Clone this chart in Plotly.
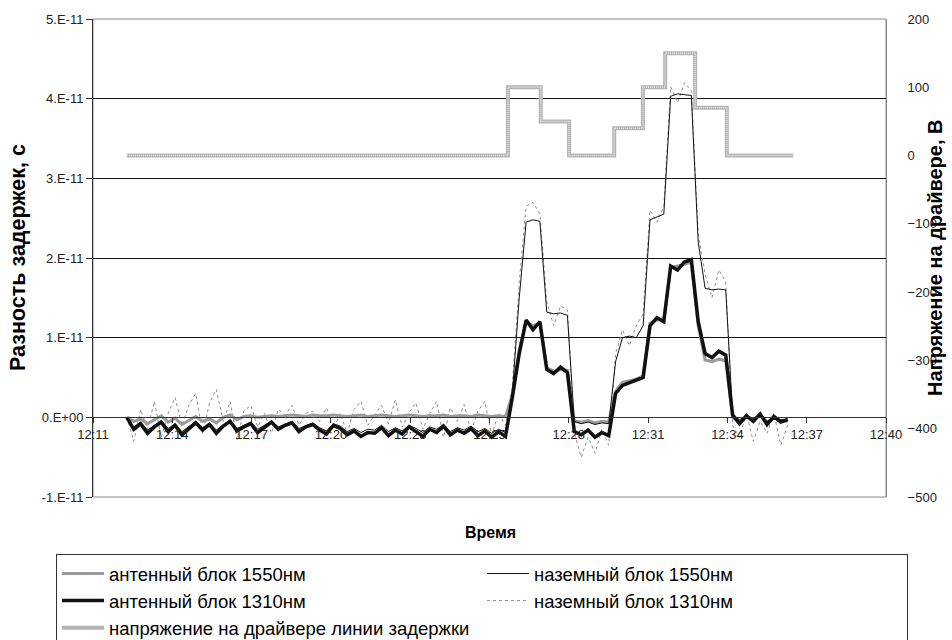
import plotly.graph_objects as go

# time, minutes after 12:00
t = [12.75, 13.0, 13.25, 13.5, 13.75, 14.0, 14.25, 14.5, 14.75, 15.0,
     15.25, 15.5, 15.75, 16.0, 16.25, 16.5, 16.75, 17.0, 17.25, 17.5,
     17.75, 18.0, 18.25, 18.5, 18.75, 19.0, 19.25, 19.5, 19.75, 20.0,
     20.25, 20.5, 20.75, 21.0, 21.25, 21.5, 21.75, 22.0, 22.25, 22.5,
     22.75, 23.0, 23.25, 23.5, 23.75, 24.0, 24.25, 24.5, 24.75, 25.0,
     25.25, 25.5, 25.75, 26.0, 26.25, 26.5, 26.75, 27.0, 27.25, 27.5,
     27.75, 28.0, 28.25, 28.5, 28.75, 29.0, 29.25, 29.5, 29.75, 30.0,
     30.25, 30.5, 30.75, 31.0, 31.25, 31.5, 31.75, 32.0, 32.25, 32.5,
     32.75, 33.0, 33.25, 33.5, 33.75, 34.0, 34.25, 34.5, 34.75, 35.0,
     35.25, 35.5, 35.75, 36.0, 36.25, 36.5, 36.75]

# delay differences, picoseconds (1e-12 s)
ant_1550 = [0.0, -0.5, -0.2, -0.8, -0.3, 0.2, -0.6, -0.1, -0.9, -0.4,
            0.1, -0.5, -0.2, -0.7, 0.0, 0.3, -0.3, 0.1, 0.2, 0.0,
            0.1, 0.2, 0.1, 0.2, 0.3, 0.2, 0.1, 0.3, 0.2, 0.2,
            0.3, 0.2, 0.1, 0.2, 0.3, 0.1, 0.2, 0.3, 0.2, 0.1,
            0.2, 0.3, 0.2, 0.1, 0.2, 0.2, 0.3, 0.1, 0.2, 0.2,
            0.1, 0.3, 0.2, 0.1, 0.2, 0.1,
            2.8, 8.5, 12.0, 11.5, 11.8, 6.2, 5.8, 6.0, 5.9, -0.5,
            -0.6, -0.4, -0.7, -0.5, -0.6, 3.3, 4.4, 4.6, 4.8, 5.2,
            11.8, 12.2, 12.4, 18.8, 19.0, 19.2, 19.5, 11.5, 7.2, 7.0,
            7.3, 7.1, 0.0, -0.5, 0.2, -0.3, 0.3, -0.6, 0.0, -0.4, -0.5]

gnd_1550 = [-0.2, -1.2, -0.6, -1.6, -1.0, -0.4, -1.4, -0.8, -1.8, -1.1,
            -0.5, -1.3, -0.7, -1.6, -0.9, -0.3, -1.4, -1.0, -0.6, -1.5,
            -1.0, -0.5, -1.2, -0.8, -0.5, -1.4, -1.0, -0.7, -1.3, -1.7,
            -0.8, -1.1, -1.8, -1.4, -1.9, -1.5, -1.6, -1.0, -1.8, -1.3,
            -1.7, -1.0, -1.4, -1.9, -1.2, -1.5, -0.9, -1.8, -1.3, -1.6,
            -1.1, -1.8, -1.4, -2.0, -1.5, -1.9,
            3.0, 15.0, 24.5, 24.8, 24.6, 13.2, 13.0, 13.1, 12.8, -0.5,
            -0.8, -0.6, -0.9, -0.7, -0.8, 7.0, 10.0, 10.2, 10.0, 11.5,
            24.8, 25.2, 25.5, 40.3, 40.6, 40.5, 40.4, 22.0, 16.2, 16.0,
            16.1, 16.0, 0.3, -0.3, 0.1, -0.4, 0.2, -0.5, 0.0, -0.3, -0.2]

ant_1310 = [0.0, -1.5, -0.8, -2.0, -1.2, -0.6, -1.8, -1.0, -2.2, -1.4,
            -0.7, -1.6, -0.9, -2.0, -1.1, -0.5, -1.7, -1.2, -0.8, -1.9,
            -1.3, -0.6, -1.5, -1.0, -0.7, -1.8, -1.2, -0.9, -1.6, -2.1,
            -1.0, -1.4, -2.2, -1.7, -2.4, -1.9, -2.0, -1.3, -2.3, -1.6,
            -2.1, -1.2, -1.8, -2.4, -1.5, -1.9, -1.1, -2.2, -1.6, -2.0,
            -1.4, -2.3, -1.7, -2.5, -1.8, -2.4,
            2.5, 8.0, 12.2, 11.0, 12.0, 6.0, 5.5, 6.3, 5.6, -1.8,
            -2.2, -1.6, -2.5, -1.9, -2.3, 3.0, 4.0, 4.3, 4.6, 5.0,
            11.5, 12.5, 12.0, 19.0, 18.5, 19.5, 19.8, 12.0, 8.0, 7.5,
            8.3, 7.8, 0.3, -0.8, 0.2, -0.5, 0.4, -0.9, 0.1, -0.6, -0.3]

gnd_1310 = [0.0, -3.0, 1.0, -1.5, 2.0, -2.5, 0.5, 2.5, -1.0, 1.5,
            3.0, -2.0, 1.8, 3.5, -0.5, 2.0, -2.8, 0.8, 1.5, -1.2,
            0.5, -2.0, 1.0, 0.3, 1.5, -1.0, 0.5, 0.8, -0.5, 1.2,
            -1.5, 0.5, -2.0, 1.0, 2.0, -1.0, 0.3, 1.5, -0.8, 2.2,
            -1.2, 0.6, 1.8, -1.5, 0.5, 2.0, -2.5, 1.2, -0.5, 1.6,
            -1.8, 0.8, 2.0, -2.2, 0.5, -1.0,
            4.0, 17.0, 26.5, 27.0, 25.5, 14.5, 11.5, 14.0, 13.5, -2.0,
            -5.0, -2.5, -4.5, -1.5, -3.5, 8.0, 11.0, 9.0, 11.5, 13.0,
            26.0, 24.5, 26.5, 41.5, 39.5, 42.0, 41.0, 23.0, 18.0, 15.0,
            18.5, 17.0, -1.0, -2.5, 0.5, -3.0, -0.5, -2.0, 0.5, -3.5, -1.0]

# driver voltage steps (V), step start times in minutes after 12:00
volt_t = [12.75, 26.59, 27.78, 28.81, 30.45, 31.49, 32.30, 33.39, 34.54, 36.95]
volt_v = [0, 100, 50, 0, 40, 100, 150, 70, 0, 0]

# axis ticks
x_tickvals = [11.52, 14.40, 17.28, 20.16, 23.04, 25.92, 28.80, 31.68, 34.56, 37.44, 40.32]
x_ticktext = ["12:11", "12:14", "12:17", "12:20", "12:23", "12:25", "12:28",
              "12:31", "12:34", "12:37", "12:40"]
y_tickvals = [-1e-11, 0, 1e-11, 2e-11, 3e-11, 4e-11, 5e-11]
y_ticktext = ["-1.E-11", "0.E+00", "1.E-11", "2.E-11", "3.E-11", "4.E-11", "5.E-11"]
y2_tickvals = [-500, -400, -300, -200, -100, 0, 100, 200]

names = ["антенный блок 1550нм", "наземный блок 1550нм", "антенный блок 1310нм",
         "наземный блок 1310нм", "напряжение на драйвере линии задержки"]

ps = lambda arr: [v * 1e-12 for v in arr]

fig = go.Figure()
fig.add_trace(go.Scatter(x=t, y=ps(gnd_1310), mode="lines", name=names[3], legendrank=4,
                         line=dict(color="#8c8c8c", width=1, dash="dot")))
fig.add_trace(go.Scatter(x=t, y=ps(ant_1550), mode="lines", name=names[0], legendrank=1,
                         line=dict(color="#9a9a9a", width=3)))
fig.add_trace(go.Scatter(x=t, y=ps(ant_1310), mode="lines", name=names[2], legendrank=3,
                         line=dict(color="#111111", width=3.5)))
fig.add_trace(go.Scatter(x=t, y=ps(gnd_1550), mode="lines", name=names[1], legendrank=2,
                         line=dict(color="#111111", width=1)))
fig.add_trace(go.Scatter(x=volt_t, y=volt_v, mode="lines", name=names[4], legendrank=5,
                         yaxis="y2", line=dict(color="#b4b4b4", width=4, shape="hv")))
fig.add_trace(go.Scatter(x=volt_t, y=volt_v, mode="lines", showlegend=False, hoverinfo="skip",
                         yaxis="y2", line=dict(color="#e6e6e6", width=1.5, shape="hv", dash="1px,1px")))

font = "Liberation Sans, Arial, sans-serif"
L, R, T, B = 93, 886, 19, 497
W, H = 952, 640
pw, ph = R - L, B - T

fig.update_layout(
    width=W, height=H,
    margin=dict(l=L, r=W - R, t=T, b=H - B, pad=0, autoexpand=False),
    paper_bgcolor="white", plot_bgcolor="white",
    font=dict(family=font, color="black", size=13),
    showlegend=True,
    legend=dict(orientation="h", x=(56 - L) / pw, xanchor="left", y=(B - 554) / ph, yanchor="top",
                bordercolor="#333333", borderwidth=1, bgcolor="white",
                font=dict(family=font, size=18.5, color="black"),
                entrywidth=368, entrywidthmode="pixels", itemwidth=42, traceorder="normal"),
    xaxis=dict(range=[11.52, 40.32], tickvals=x_tickvals, ticktext=x_ticktext,
               anchor="free", position=1 / 6, showline=True, linecolor="#333333", linewidth=1,
               ticks="outside", ticklen=5, tickcolor="#333333", showgrid=False, zeroline=False,
               tickfont=dict(size=13, family=font, color="#222222")),
    yaxis=dict(range=[-1e-11, 5e-11], tickvals=y_tickvals, ticktext=y_ticktext,
               showgrid=True, gridcolor="#111111", gridwidth=1, zeroline=False,
               showline=True, linecolor="#333333", linewidth=1, ticks="outside", ticklen=6,
               tickcolor="#333333", tickfont=dict(size=13, family=font, color="#222222")),
    yaxis2=dict(range=[-500, 200], tickvals=y2_tickvals, overlaying="y", side="right",
                showgrid=False, zeroline=False, showline=True, linecolor="#8a8a8a", linewidth=1,
                ticks="outside", ticklen=18, tickcolor="rgba(0,0,0,0)",
                tickfont=dict(size=13, family=font, color="#222222")),
    shapes=[dict(type="rect", xref="paper", yref="paper", x0=0, x1=1, y0=0, y1=1,
                 line=dict(color="#8a8a8a", width=1), layer="below")],
    annotations=[
        dict(text="<b>Разность задержек, с</b>", xref="paper", yref="paper",
             x=(18 - L) / pw, y=0.5, textangle=-90, showarrow=False,
             font=dict(family=font, size=21.5, color="black"), xanchor="center", yanchor="middle"),
        dict(text="<b>Напряжение на драйвере, В</b>", xref="paper", yref="paper",
             x=(935 - L) / pw, y=0.5, textangle=-90, showarrow=False,
             font=dict(family=font, size=20, color="black"), xanchor="center", yanchor="middle"),
        dict(text="<b>Время</b>", xref="paper", yref="paper",
             x=(490 - L) / pw, y=(B - 532) / ph, showarrow=False,
             font=dict(family=font, size=16, color="black"), xanchor="center", yanchor="middle"),
    ],
)

fig.write_html("out.html", config={"displayModeBar": False},
               post_script="document.body.style.margin='0';document.body.style.overflow='hidden';")
